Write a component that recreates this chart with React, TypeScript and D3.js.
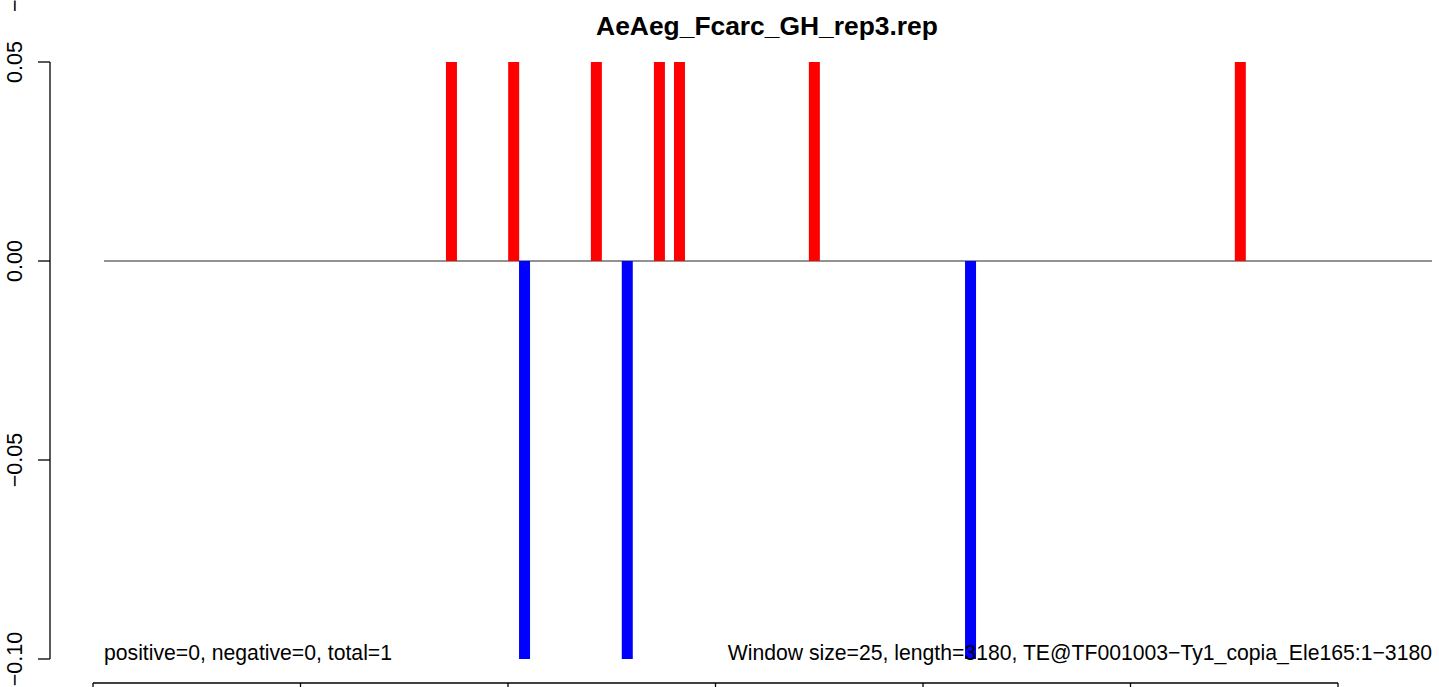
import React from "react";
import * as d3 from "d3";

const title = "AeAeg_Fcarc_GH_rep3.rep";
const leftNote = "positive=0, negative=0, total=1";
const rightNote = "Window size=25, length=3180, TE@TF001003\u2212Ty1_copia_Ele165:1\u22123180";

// bar centres in bp along the TE and their values
const redPos = [832, 981, 1179, 1330, 1378, 1701, 2721];
const redVal = [0.05, 0.05, 0.05, 0.05, 0.05, 0.05, 0.05];
const bluePos = [1007, 1253, 2075];
const blueVal = [-0.1, -0.1, -0.1];

const yTicks = [0.05, 0.0, -0.05, -0.1];
const yTickLabels = ["0.05", "0.00", "\u22120.05", "\u22120.10"];
const bottomTicks = [0, 500, 1000, 1500, 2000, 2500, 3000];

const W = 1439;
const H = 687;
const FONT = "'Liberation Sans', Arial, Helvetica, sans-serif";

export default function App() {
  const x = d3.scaleLinear().domain([0, 3180]).range([104, 1432]);
  const y = d3.scaleLinear().domain([-0.1, 0.05]).range([659, 62]);
  const xb = d3.scaleLinear().domain([0, 3000]).range([93, 1338]);
  const barW = 11;
  const y0 = y(0);

  return (
    <svg
      width={W}
      height={H}
      style={{ position: "absolute", left: 0, top: 0, background: "#fff" }}
      fontFamily={FONT}
    >
      <rect x={0} y={0} width={W} height={H} fill="#fff" />
      <text x={767} y={35} textAnchor="middle" fontWeight="bold" fontSize={26.4}>
        {title}
      </text>

      {/* stray clipped label at top-left */}
      <text transform={`translate(22,12) rotate(-90)`} fontSize={21.5} textAnchor="start">
        {"\u2212"}
      </text>

      {/* zero line */}
      <line x1={x(0)} x2={x(3180)} y1={y0} y2={y0} stroke="#6e6e6e" strokeWidth={1.3} />

      {redPos.map((p, i) => (
        <rect
          key={"r" + i}
          x={x(p) - barW / 2}
          y={y(redVal[i])}
          width={barW}
          height={y0 - y(redVal[i])}
          fill="#ff0000"
        />
      ))}
      {bluePos.map((p, i) => (
        <rect
          key={"b" + i}
          x={x(p) - barW / 2}
          y={y0}
          width={barW}
          height={y(blueVal[i]) - y0}
          fill="#0000ff"
        />
      ))}

      {/* y axis */}
      <line x1={50} x2={50} y1={y(0.05)} y2={y(-0.1)} stroke="#000" strokeWidth={1.3} />
      {yTicks.map((t, i) => (
        <g key={"yt" + i}>
          <line x1={38} x2={50} y1={y(t)} y2={y(t)} stroke="#000" strokeWidth={1.3} />
          <text
            transform={`translate(22,${y(t)}) rotate(-90)`}
            textAnchor="middle"
            fontSize={21.5}
          >
            {yTickLabels[i]}
          </text>
        </g>
      ))}

      {/* bottom axis (labels fall outside the picture) */}
      <line x1={xb(0)} x2={xb(3000)} y1={683} y2={683} stroke="#000" strokeWidth={1.3} />
      {bottomTicks.map((t) => (
        <line key={"xt" + t} x1={xb(t)} x2={xb(t)} y1={683} y2={695} stroke="#000" strokeWidth={1.3} />
      ))}

      <text x={104} y={660} fontSize={21.2}>
        {leftNote}
      </text>
      <text x={1432} y={660} fontSize={21.2} textAnchor="end">
        {rightNote}
      </text>
    </svg>
  );
}
